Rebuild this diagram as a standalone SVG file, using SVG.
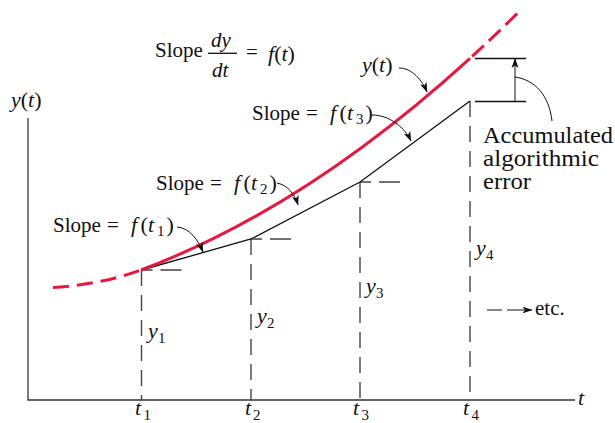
<svg xmlns="http://www.w3.org/2000/svg" width="615" height="423" viewBox="0 0 615 423">
<style>
.t{font-family:"Liberation Serif","Times New Roman",serif;font-size:21px;fill:#111}
.big{font-size:23px}
.m{font-size:22px}
.it{font-style:italic}
.sub{font-size:15px}
.ax{stroke:#333;stroke-width:1.3;fill:none}
.dv{stroke:#444;stroke-width:1.4;fill:none;stroke-dasharray:16 9}
.dh{stroke:#444;stroke-width:1.4;fill:none;stroke-dasharray:11 8 21 100}
.red{stroke:#e8173d;stroke-width:3;fill:none}
.blk{stroke:#111;stroke-width:1.3;fill:none}
.ptr{stroke:#111;stroke-width:1;fill:none}
</style>
<defs>
<marker id="ah" viewBox="0 0 10 8" refX="9.5" refY="4" markerWidth="10" markerHeight="8" markerUnits="userSpaceOnUse" orient="auto">
<path d="M0,0.5 L10,4 L0,7.5 L2.5,4 z" fill="#111"/>
</marker>
</defs>

<g id="axes">
<path class="ax" d="M28,118 V400 H575"/>
<text class="t it m" x="578" y="405">t</text>
<text class="t m" x="11" y="107"><tspan class="it">y</tspan>(<tspan class="it">t</tspan>)</text>
</g>

<g id="connectors">
<path class="dv" d="M141.5,270 V400"/>
<path class="dv" d="M251,239 V400"/>
<path class="dv" d="M360,182 V400"/>
<path class="dv" d="M470,101 V400"/>
<path class="dh" d="M141.5,270 H182"/>
<path class="dh" d="M251,239 H291"/>
<path class="dh" d="M360,182 H400"/>
<path class="blk" d="M141.5,270 L251,239 L360,182 L470,101"/>
<path class="red" d="M53,287.5 C85,285.5 115,279.5 141,270" stroke-dasharray="16 8"/>
<path class="red" d="M141,270 Q305.5,208.3 470,58.3"/>
<path class="red" d="M470,58.3 Q495,35.5 520,10.7" stroke-dasharray="16 7" stroke-dashoffset="20"/>
<path class="ptr" d="M177,227 C190,228 198,240 203,252" marker-end="url(#ah)"/>
<path class="ptr" d="M277,183 C288,185 295,195 298,205" marker-end="url(#ah)"/>
<path class="ptr" d="M372,115 C390,115 405,128 411,141" marker-end="url(#ah)"/>
<path class="ptr" d="M399,68 C412,68 422,80 427,92" marker-end="url(#ah)"/>
<path class="blk" d="M475,58.5 H526 M475,101.5 H526"/>
<path class="ptr" d="M515,101.5 V58.5" marker-end="url(#ah)"/>
<path class="ptr" d="M552,121 C549,95 535,80 515,77"/>
<path class="ptr" d="M487,310 H502"/>
<path class="ptr" d="M507,310 H532" marker-end="url(#ah)"/>
</g>

<g id="formula">
<text class="t" x="155" y="57">Slope</text>
<text class="t it" x="211" y="47" font-size="22">dy</text>
<path class="blk" d="M208,53.3 H237"/>
<text class="t it" x="212" y="77" font-size="22">dt</text>
<text class="t" x="246" y="59">=</text>
<text class="t m" x="268" y="61"><tspan class="it">f</tspan>(<tspan class="it">t</tspan>)</text>
</g>

<g id="label-yt">
<text class="t m" x="362" y="72"><tspan class="it">y</tspan>(<tspan class="it">t</tspan>)</text>
</g>

<g id="label-slope1">
<text class="t" y="232"><tspan x="53">Slope</tspan><tspan x="107">=</tspan><tspan x="131" class="it m">f</tspan><tspan x="140.5" class="m">(</tspan><tspan x="148" class="it m">t</tspan><tspan x="157" dy="4" class="sub">1</tspan><tspan x="166.5" dy="-4" class="m">)</tspan></text>
</g>
<g id="label-slope2">
<text class="t" y="190"><tspan x="156">Slope</tspan><tspan x="210">=</tspan><tspan x="234" class="it m">f</tspan><tspan x="243.5" class="m">(</tspan><tspan x="251" class="it m">t</tspan><tspan x="260" dy="4" class="sub">2</tspan><tspan x="269.5" dy="-4" class="m">)</tspan></text>
</g>
<g id="label-slope3">
<text class="t" y="120"><tspan x="252">Slope</tspan><tspan x="306">=</tspan><tspan x="330" class="it m">f</tspan><tspan x="339.5" class="m">(</tspan><tspan x="347" class="it m">t</tspan><tspan x="356" dy="4" class="sub">3</tspan><tspan x="365.5" dy="-4" class="m">)</tspan></text>
</g>

<g id="label-error">
<text class="t big" x="483" y="143" textLength="130" lengthAdjust="spacingAndGlyphs">Accumulated</text>
<text class="t big" x="483" y="166" textLength="116" lengthAdjust="spacingAndGlyphs">algorithmic</text>
<text class="t big" x="483" y="189" textLength="48" lengthAdjust="spacingAndGlyphs">error</text>
</g>

<g id="y-labels">
<text class="t m" y="338"><tspan x="148" class="it">y</tspan><tspan x="158" dy="5" class="sub">1</tspan></text>
<text class="t m" y="323"><tspan x="257" class="it">y</tspan><tspan x="267" dy="5" class="sub">2</tspan></text>
<text class="t m" y="293"><tspan x="366" class="it">y</tspan><tspan x="376" dy="5" class="sub">3</tspan></text>
<text class="t m" y="255"><tspan x="476" class="it">y</tspan><tspan x="486" dy="5" class="sub">4</tspan></text>
</g>

<g id="t-labels">
<text class="t m" y="415"><tspan x="135" class="it">t</tspan><tspan x="143.5" dy="5" class="sub">1</tspan></text>
<text class="t m" y="415"><tspan x="245" class="it">t</tspan><tspan x="253" dy="5" class="sub">2</tspan></text>
<text class="t m" y="415"><tspan x="353" class="it">t</tspan><tspan x="361.5" dy="5" class="sub">3</tspan></text>
<text class="t m" y="415"><tspan x="463" class="it">t</tspan><tspan x="471.5" dy="5" class="sub">4</tspan></text>
</g>

<g id="etc">
<text class="t" x="535" y="315" font-size="23">etc.</text>
</g>
</svg>
